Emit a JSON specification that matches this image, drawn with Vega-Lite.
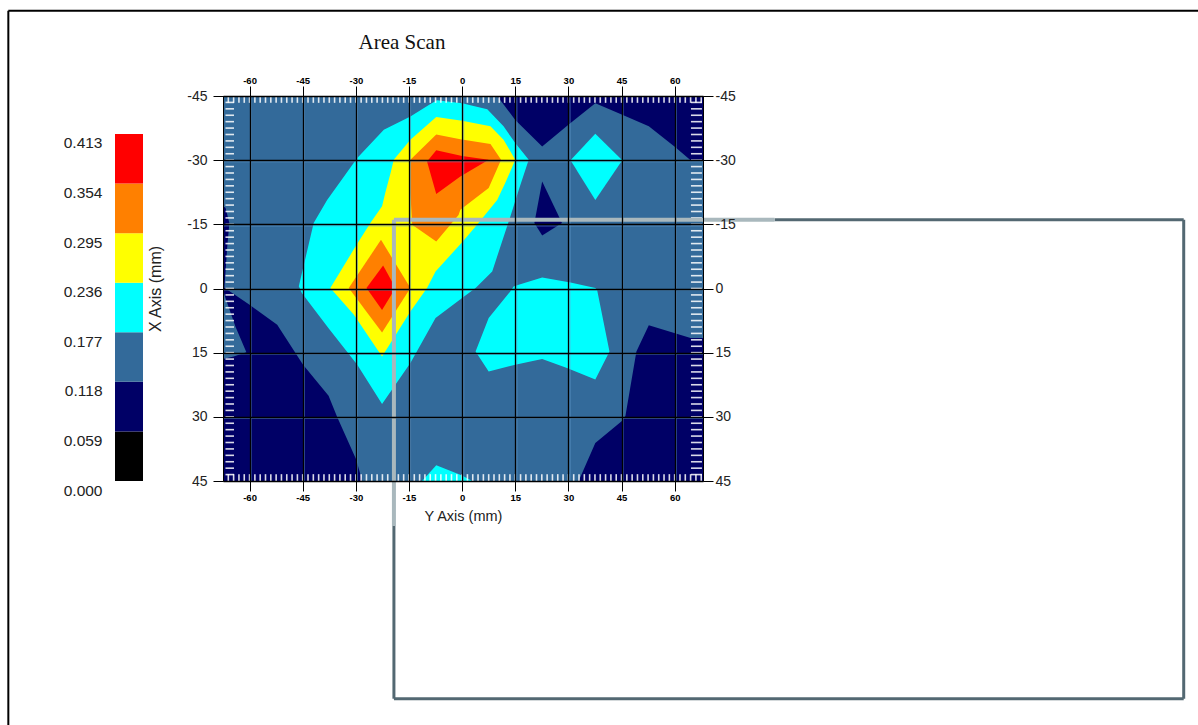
{"$schema":"https://vega.github.io/schema/vega-lite/v6.json","background":"white","padding":{"left":7,"top":9,"right":0,"bottom":0},"spacing":-136,"config":{"view":{"stroke":null},"font":"Liberation Sans"},"datasets":{"polys":[
{"p":"bg","l":"0.118","i":0,"x":-67.5,"y":-45},{"p":"bg","l":"0.118","i":1,"x":68,"y":-45},{"p":"bg","l":"0.118","i":2,"x":68,"y":45},{"p":"bg","l":"0.118","i":3,"x":-67.5,"y":45},
{"p":"n1","l":"0.059","i":0,"x":9.9,"y":-45},{"p":"n1","l":"0.059","i":1,"x":15,"y":-39.4},{"p":"n1","l":"0.059","i":2,"x":22.6,"y":-33.2},{"p":"n1","l":"0.059","i":3,"x":30,"y":-38.3},{"p":"n1","l":"0.059","i":4,"x":37.6,"y":-43.3},{"p":"n1","l":"0.059","i":5,"x":45.2,"y":-40.6},{"p":"n1","l":"0.059","i":6,"x":52.7,"y":-37.9},{"p":"n1","l":"0.059","i":7,"x":60.2,"y":-33},{"p":"n1","l":"0.059","i":8,"x":64.5,"y":-30},{"p":"n1","l":"0.059","i":9,"x":68,"y":-29.8},{"p":"n1","l":"0.059","i":10,"x":68,"y":-45},
{"p":"n2","l":"0.059","i":0,"x":22.6,"y":-25},{"p":"n2","l":"0.059","i":1,"x":28.2,"y":-15.3},{"p":"n2","l":"0.059","i":2,"x":22.6,"y":-12.4},{"p":"n2","l":"0.059","i":3,"x":20.4,"y":-15.3},
{"p":"n3","l":"0.059","i":0,"x":32.9,"y":45},{"p":"n3","l":"0.059","i":1,"x":37.6,"y":36.1},{"p":"n3","l":"0.059","i":2,"x":45.2,"y":30.9},{"p":"n3","l":"0.059","i":3,"x":46.1,"y":29.8},{"p":"n3","l":"0.059","i":4,"x":49.2,"y":14.7},{"p":"n3","l":"0.059","i":5,"x":52.7,"y":8.6},{"p":"n3","l":"0.059","i":6,"x":64.5,"y":11.6},{"p":"n3","l":"0.059","i":7,"x":68,"y":11.6},{"p":"n3","l":"0.059","i":8,"x":68,"y":45},
{"p":"n4","l":"0.059","i":0,"x":-67.5,"y":-19.2},{"p":"n4","l":"0.059","i":1,"x":-66.8,"y":-18.9},{"p":"n4","l":"0.059","i":2,"x":-65.7,"y":-15.3},{"p":"n4","l":"0.059","i":3,"x":-66.3,"y":-9.8},{"p":"n4","l":"0.059","i":4,"x":-67.1,"y":-0.2},{"p":"n4","l":"0.059","i":5,"x":-60,"y":3.8},{"p":"n4","l":"0.059","i":6,"x":-52.2,"y":8.5},{"p":"n4","l":"0.059","i":7,"x":-44.9,"y":17.8},{"p":"n4","l":"0.059","i":8,"x":-37.7,"y":25.1},{"p":"n4","l":"0.059","i":9,"x":-35.3,"y":30},{"p":"n4","l":"0.059","i":10,"x":-29.9,"y":40},{"p":"n4","l":"0.059","i":11,"x":-28.2,"y":45},{"p":"n4","l":"0.059","i":12,"x":-67.5,"y":45},{"p":"n4","l":"0.059","i":13,"x":-67.5,"y":16.5},{"p":"n4","l":"0.059","i":14,"x":-64.5,"y":15.9},{"p":"n4","l":"0.059","i":15,"x":-60.9,"y":14.9},{"p":"n4","l":"0.059","i":16,"x":-64,"y":8.9},{"p":"n4","l":"0.059","i":17,"x":-66.8,"y":2.2},{"p":"n4","l":"0.059","i":18,"x":-67.5,"y":0.3},
{"p":"c1","l":"0.177","i":0,"x":-7.1,"y":-44},{"p":"c1","l":"0.177","i":1,"x":0,"y":-43.3},{"p":"c1","l":"0.177","i":2,"x":7.1,"y":-41.9},{"p":"c1","l":"0.177","i":3,"x":11.7,"y":-37.9},{"p":"c1","l":"0.177","i":4,"x":15,"y":-34},{"p":"c1","l":"0.177","i":5,"x":18.8,"y":-30.1},{"p":"c1","l":"0.177","i":6,"x":16,"y":-23.1},{"p":"c1","l":"0.177","i":7,"x":13.6,"y":-16.8},{"p":"c1","l":"0.177","i":8,"x":8.5,"y":-4},{"p":"c1","l":"0.177","i":9,"x":3.8,"y":-0.1},{"p":"c1","l":"0.177","i":10,"x":0,"y":2.2},{"p":"c1","l":"0.177","i":11,"x":-7.5,"y":6.9},{"p":"c1","l":"0.177","i":12,"x":-14.6,"y":17.4},{"p":"c1","l":"0.177","i":13,"x":-22.6,"y":27},{"p":"c1","l":"0.177","i":14,"x":-29.6,"y":17.8},{"p":"c1","l":"0.177","i":15,"x":-37.7,"y":9.3},{"p":"c1","l":"0.177","i":16,"x":-45.2,"y":1.1},{"p":"c1","l":"0.177","i":17,"x":-46.1,"y":-0.5},{"p":"c1","l":"0.177","i":18,"x":-41.9,"y":-15.3},{"p":"c1","l":"0.177","i":19,"x":-38.1,"y":-20.7},{"p":"c1","l":"0.177","i":20,"x":-29.6,"y":-30.5},{"p":"c1","l":"0.177","i":21,"x":-22.1,"y":-37.1},{"p":"c1","l":"0.177","i":22,"x":-14.6,"y":-40.2},{"p":"c1","l":"0.177","i":23,"x":-9.4,"y":-42.9},
{"p":"c2","l":"0.177","i":0,"x":37.6,"y":-36.2},{"p":"c2","l":"0.177","i":1,"x":45.2,"y":-30},{"p":"c2","l":"0.177","i":2,"x":37.6,"y":-20.7},{"p":"c2","l":"0.177","i":3,"x":30.6,"y":-30},
{"p":"c3","l":"0.177","i":0,"x":14.6,"y":-0.5},{"p":"c3","l":"0.177","i":1,"x":22.6,"y":-2.6},{"p":"c3","l":"0.177","i":2,"x":30.6,"y":-1.4},{"p":"c3","l":"0.177","i":3,"x":37.6,"y":-0.1},{"p":"c3","l":"0.177","i":4,"x":38.1,"y":0.3},{"p":"c3","l":"0.177","i":5,"x":41.6,"y":14.7},{"p":"c3","l":"0.177","i":6,"x":37.6,"y":21.3},{"p":"c3","l":"0.177","i":7,"x":29.6,"y":18.6},{"p":"c3","l":"0.177","i":8,"x":22.6,"y":16.5},{"p":"c3","l":"0.177","i":9,"x":15,"y":17.8},{"p":"c3","l":"0.177","i":10,"x":7.5,"y":19.4},{"p":"c3","l":"0.177","i":11,"x":3.8,"y":14.7},{"p":"c3","l":"0.177","i":12,"x":7.5,"y":6.9},{"p":"c3","l":"0.177","i":13,"x":13.6,"y":0.7},
{"p":"c4","l":"0.177","i":0,"x":-11.3,"y":45},{"p":"c4","l":"0.177","i":1,"x":-7.3,"y":41.3},{"p":"c4","l":"0.177","i":2,"x":0,"y":43.7},{"p":"c4","l":"0.177","i":3,"x":2.8,"y":45},
{"p":"y1","l":"0.236","i":0,"x":-19.3,"y":-30.1},{"p":"y1","l":"0.236","i":1,"x":-14.6,"y":-34.8},{"p":"y1","l":"0.236","i":2,"x":-7.3,"y":-40.1},{"p":"y1","l":"0.236","i":3,"x":0,"y":-39.2},{"p":"y1","l":"0.236","i":4,"x":8,"y":-37.9},{"p":"y1","l":"0.236","i":5,"x":11.7,"y":-34.8},{"p":"y1","l":"0.236","i":6,"x":15,"y":-30.1},{"p":"y1","l":"0.236","i":7,"x":12.2,"y":-24.7},{"p":"y1","l":"0.236","i":8,"x":9.9,"y":-20.7},{"p":"y1","l":"0.236","i":9,"x":3.8,"y":-14.5},{"p":"y1","l":"0.236","i":10,"x":0,"y":-10.8},{"p":"y1","l":"0.236","i":11,"x":-7.5,"y":-4},{"p":"y1","l":"0.236","i":12,"x":-9.9,"y":-0.1},{"p":"y1","l":"0.236","i":13,"x":-14.6,"y":5.4},{"p":"y1","l":"0.236","i":14,"x":-22.6,"y":15.9},{"p":"y1","l":"0.236","i":15,"x":-30.6,"y":6.1},{"p":"y1","l":"0.236","i":16,"x":-37.2,"y":-0.1},{"p":"y1","l":"0.236","i":17,"x":-30.1,"y":-9.8},{"p":"y1","l":"0.236","i":18,"x":-25.9,"y":-15.3},{"p":"y1","l":"0.236","i":19,"x":-22.6,"y":-19.2},{"p":"y1","l":"0.236","i":20,"x":-21.7,"y":-22.3},{"p":"y1","l":"0.236","i":21,"x":-20.2,"y":-27},
{"p":"o1","l":"0.295","i":0,"x":-14.6,"y":-30.1},{"p":"o1","l":"0.295","i":1,"x":-7.3,"y":-36},{"p":"o1","l":"0.295","i":2,"x":-0.5,"y":-34.9},{"p":"o1","l":"0.295","i":3,"x":8,"y":-33.8},{"p":"o1","l":"0.295","i":4,"x":11,"y":-30.1},{"p":"o1","l":"0.295","i":5,"x":7.5,"y":-23.5},{"p":"o1","l":"0.295","i":6,"x":-0.5,"y":-18.4},{"p":"o1","l":"0.295","i":7,"x":-1,"y":-17.2},{"p":"o1","l":"0.295","i":8,"x":-7.3,"y":-11},{"p":"o1","l":"0.295","i":9,"x":-14.1,"y":-14.9},{"p":"o1","l":"0.295","i":10,"x":-14.6,"y":-22.3},
{"p":"o2","l":"0.295","i":0,"x":-22.9,"y":-11.4},{"p":"o2","l":"0.295","i":1,"x":-14.6,"y":-0.1},{"p":"o2","l":"0.295","i":2,"x":-22.6,"y":10.3},{"p":"o2","l":"0.295","i":3,"x":-32,"y":-0.1},
{"p":"r1","l":"0.354","i":0,"x":-7.3,"y":-32.3},{"p":"r1","l":"0.354","i":1,"x":0,"y":-31},{"p":"r1","l":"0.354","i":2,"x":7.5,"y":-30.1},{"p":"r1","l":"0.354","i":3,"x":-0.5,"y":-26.2},{"p":"r1","l":"0.354","i":4,"x":-7.3,"y":-22.1},{"p":"r1","l":"0.354","i":5,"x":-9.9,"y":-29.7},
{"p":"r2","l":"0.354","i":0,"x":-22.3,"y":-5.4},{"p":"r2","l":"0.354","i":1,"x":-18.8,"y":-0.1},{"p":"r2","l":"0.354","i":2,"x":-22.6,"y":5},{"p":"r2","l":"0.354","i":3,"x":-27,"y":-0.1}
],
"hx":[{"x":-66},{"x":-64.5},{"x":-63},{"x":-61.5},{"x":-60},{"x":-58.5},{"x":-57},{"x":-55.5},{"x":-54},{"x":-52.5},{"x":-51},{"x":-49.5},{"x":-48},{"x":-46.5},{"x":-45},{"x":-43.5},{"x":-42},{"x":-40.5},{"x":-39},{"x":-37.5},{"x":-36},{"x":-34.5},{"x":-33},{"x":-31.5},{"x":-30},{"x":-28.5},{"x":-27},{"x":-25.5},{"x":-24},{"x":-22.5},{"x":-21},{"x":-19.5},{"x":-18},{"x":-16.5},{"x":-15},{"x":-13.5},{"x":-12},{"x":-10.5},{"x":-9},{"x":-7.5},{"x":-6},{"x":-4.5},{"x":-3},{"x":-1.5},{"x":0},{"x":1.5},{"x":3},{"x":4.5},{"x":6},{"x":7.5},{"x":9},{"x":10.5},{"x":12},{"x":13.5},{"x":15},{"x":16.5},{"x":18},{"x":19.5},{"x":21},{"x":22.5},{"x":24},{"x":25.5},{"x":27},{"x":28.5},{"x":30},{"x":31.5},{"x":33},{"x":34.5},{"x":36},{"x":37.5},{"x":39},{"x":40.5},{"x":42},{"x":43.5},{"x":45},{"x":46.5},{"x":48},{"x":49.5},{"x":51},{"x":52.5},{"x":54},{"x":55.5},{"x":57},{"x":58.5},{"x":60},{"x":61.5},{"x":63},{"x":64.5},{"x":66},{"x":67.5}],
"hy":[{"y":-43.5},{"y":-42},{"y":-40.5},{"y":-39},{"y":-37.5},{"y":-36},{"y":-34.5},{"y":-33},{"y":-31.5},{"y":-30},{"y":-28.5},{"y":-27},{"y":-25.5},{"y":-24},{"y":-22.5},{"y":-21},{"y":-19.5},{"y":-18},{"y":-16.5},{"y":-15},{"y":-13.5},{"y":-12},{"y":-10.5},{"y":-9},{"y":-7.5},{"y":-6},{"y":-4.5},{"y":-3},{"y":-1.5},{"y":0},{"y":1.5},{"y":3},{"y":4.5},{"y":6},{"y":7.5},{"y":9},{"y":10.5},{"y":12},{"y":13.5},{"y":15},{"y":16.5},{"y":18},{"y":19.5},{"y":21},{"y":22.5},{"y":24},{"y":25.5},{"y":27},{"y":28.5},{"y":30},{"y":31.5},{"y":33},{"y":34.5},{"y":36},{"y":37.5},{"y":39},{"y":40.5},{"y":42},{"y":43.5}],
"mx":[{"x":-60},{"x":-45},{"x":-30},{"x":-15},{"x":0},{"x":15},{"x":30},{"x":45},{"x":60}],
"my":[{"y":-30},{"y":-15},{"y":0},{"y":15},{"y":30}],
"frame":[
{"k":"outer","x":-128.1,"x2":207.8,"y":-64.9,"y2":-64.9},{"k":"outer","x":-128.1,"x2":-128.1,"y":-64.9,"y2":102.4},
{"k":"dark","x":88.2,"x2":203.7,"y":-16.06,"y2":-16.06},{"k":"dark","x":203.7,"x2":203.7,"y":-16.06,"y2":95.9},{"k":"dark","x":-19.25,"x2":203.7,"y":95.9,"y2":95.9},{"k":"dark","x":-19.25,"x2":-19.25,"y":55.5,"y2":95.9},
{"k":"light","x":-19.25,"x2":88.2,"y":-16.06,"y2":-16.06},{"k":"light","x":-19.25,"x2":-19.25,"y":-16.06,"y2":55.5}
],
"bands":[{"l":"0","from":0,"to":0.059},{"l":"0.059","from":0.059,"to":0.118},{"l":"0.118","from":0.118,"to":0.177},{"l":"0.177","from":0.177,"to":0.236},{"l":"0.236","from":0.236,"to":0.295},{"l":"0.295","from":0.295,"to":0.354},{"l":"0.354","from":0.354,"to":0.413}]},
"hconcat":[
{"width":28,"height":385,"data":{"name":"bands"},"mark":{"type":"rect"},"encoding":{
"y":{"field":"from","type":"quantitative","scale":{"domain":[0,0.4582],"nice":false,"zero":false},"axis":{"title":null,"values":[0,0.059,0.118,0.177,0.236,0.295,0.354,0.413],"format":".3f","grid":false,"domain":false,"ticks":false,"labelFontSize":15.5,"labelColor":"#222","labelOffset":9,"labelPadding":13,"labelFont":"Liberation Sans"}},
"y2":{"field":"to"},
"fill":{"field":"l","type":"nominal","scale":{"domain":["0","0.059","0.118","0.177","0.236","0.295","0.354"],"range":["#000000","#000066","#336a9a","#00ffff","#ffff00","#ff8000","#ff0000"]},"legend":null}}},
{"width":480,"height":385,
"title":{"text":"Area Scan","font":"Liberation Serif","fontSize":21,"fontWeight":"normal","color":"#111","anchor":"middle","dx":-61,"offset":-43},
"resolve":{"axis":{"x":"independent","y":"independent"}},
"layer":[
{"data":{"name":"polys"},"mark":{"type":"line","filled":true},"encoding":{
"x":{"field":"x","type":"quantitative","scale":{"domain":[-67.5,68],"nice":false,"zero":false},"axis":{"orient":"bottom","title":"Y Axis (mm)","titleFont":"Liberation Sans","titleFontSize":14.5,"titleFontWeight":"normal","titleColor":"#222","titlePadding":8,"values":[-60,-45,-30,-15,0,15,30,45,60],"labelExpr":"'' + datum.value","labelFontSize":9.5,"labelFontWeight":"bold","labelColor":"#000","labelPadding":1,"tickSize":10,"tickColor":"#000","domainColor":"#000","grid":true,"gridColor":"#000","gridWidth":1.3,"gridOpacity":1,"zindex":1}},
"y":{"field":"y","type":"quantitative","scale":{"domain":[45,-45],"nice":false,"zero":false},"axis":{"orient":"left","title":"X Axis (mm)","titleFont":"Liberation Sans","titleFontSize":16,"titleFontWeight":"normal","titleColor":"#222","titlePadding":23,"values":[-45,-30,-15,0,15,30,45],"labelExpr":"'' + datum.value","labelFontSize":14,"labelColor":"#222","labelPadding":6,"tickSize":10,"tickColor":"#000","domainColor":"#000","grid":true,"gridColor":"#000","gridWidth":1.3,"gridOpacity":1,"zindex":1}},
"fill":{"field":"l","type":"nominal","scale":{"domain":["0","0.059","0.118","0.177","0.236","0.295","0.354"],"range":["#000000","#000066","#336a9a","#00ffff","#ffff00","#ff8000","#ff0000"]},"legend":null},
"detail":{"field":"p"},"order":{"field":"i","type":"quantitative"}}},
{"data":{"name":"mx"},"mark":{"type":"rule","color":"#6aa5d8","strokeWidth":1,"opacity":0.6,"xOffset":1.6},"encoding":{
"x":{"field":"x","type":"quantitative","scale":{"domain":[-67.5,68],"nice":false,"zero":false},"axis":null},
"y":{"datum":-45,"type":"quantitative","scale":{"domain":[45,-45],"nice":false,"zero":false},"axis":null},"y2":{"datum":45}}},
{"data":{"name":"my"},"mark":{"type":"rule","color":"#6aa5d8","strokeWidth":1,"opacity":0.6,"yOffset":1.6},"encoding":{
"y":{"field":"y","type":"quantitative","scale":{"domain":[45,-45],"nice":false,"zero":false},"axis":null},
"x":{"datum":-67.5,"type":"quantitative","scale":{"domain":[-67.5,68],"nice":false,"zero":false},"axis":null},"x2":{"datum":68}}},
{"data":{"name":"hx"},"mark":{"type":"rule","color":"#ffffff","strokeWidth":1.6,"opacity":0.85},"encoding":{
"x":{"field":"x","type":"quantitative","scale":{"domain":[-67.5,68],"nice":false,"zero":false},"axis":{"orient":"top","title":null,"values":[-60,-45,-30,-15,0,15,30,45,60],"labelExpr":"'' + datum.value","labelFontSize":9.5,"labelFontWeight":"bold","labelColor":"#000","labelPadding":1,"tickSize":10,"tickColor":"#000","domainColor":"#000","grid":false,"zindex":1}},
"y":{"datum":-45,"type":"quantitative","scale":{"domain":[45,-45],"nice":false,"zero":false},"axis":null},"y2":{"datum":-43.4}}},
{"data":{"name":"hx"},"mark":{"type":"rule","color":"#ffffff","strokeWidth":1.6,"opacity":0.85},"encoding":{
"x":{"field":"x","type":"quantitative","scale":{"domain":[-67.5,68],"nice":false,"zero":false},"axis":null},
"y":{"datum":45,"type":"quantitative","scale":{"domain":[45,-45],"nice":false,"zero":false},"axis":null},"y2":{"datum":43.4}}},
{"data":{"name":"hy"},"mark":{"type":"rule","color":"#ffffff","strokeWidth":1.6,"opacity":0.85},"encoding":{
"y":{"field":"y","type":"quantitative","scale":{"domain":[45,-45],"nice":false,"zero":false},"axis":null},
"x":{"datum":-66.8,"type":"quantitative","scale":{"domain":[-67.5,68],"nice":false,"zero":false},"axis":null},"x2":{"datum":-64.4}}},
{"data":{"name":"hy"},"mark":{"type":"rule","color":"#ffffff","strokeWidth":1.6,"opacity":0.85},"encoding":{
"y":{"field":"y","type":"quantitative","scale":{"domain":[45,-45],"nice":false,"zero":false},"axis":{"orient":"right","title":null,"values":[-45,-30,-15,0,15,30,45],"labelExpr":"'' + datum.value","labelFontSize":14,"labelColor":"#222","labelPadding":2,"tickSize":10,"tickColor":"#000","domainColor":"#000","grid":false,"zindex":1}},
"x":{"datum":64.6,"type":"quantitative","scale":{"domain":[-67.5,68],"nice":false,"zero":false},"axis":null},"x2":{"datum":67.7}}},
{"data":{"name":"frame"},"mark":{"type":"rule"},"encoding":{
"x":{"field":"x","type":"quantitative","scale":{"domain":[-67.5,68],"nice":false,"zero":false},"axis":null},"x2":{"field":"x2"},
"y":{"field":"y","type":"quantitative","scale":{"domain":[45,-45],"nice":false,"zero":false},"axis":null},"y2":{"field":"y2"},
"stroke":{"field":"k","type":"nominal","scale":{"domain":["outer","dark","light"],"range":["#000000","#536872","#a9b8bd"]},"legend":null},
"strokeWidth":{"field":"k","type":"nominal","scale":{"domain":["outer","dark","light"],"range":[2,4,4]},"legend":null},
"opacity":{"field":"k","type":"nominal","scale":{"domain":["outer","dark","light"],"range":[1,1,0.7]},"legend":null}}}
]}
]}
